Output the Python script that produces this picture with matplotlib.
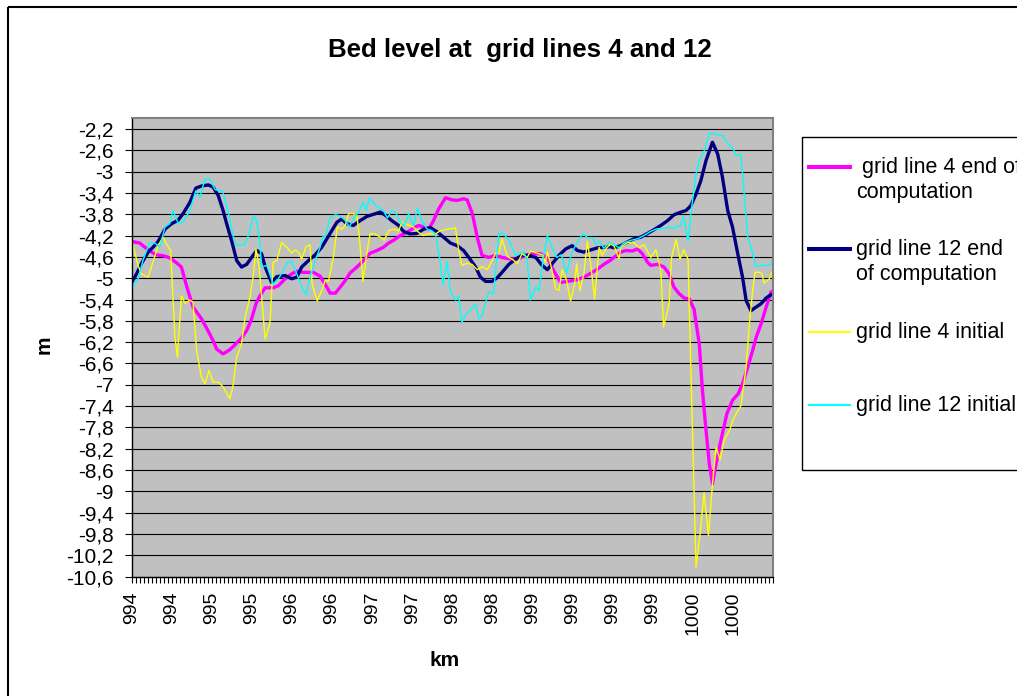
import numpy as np
import matplotlib
matplotlib.use("Agg")
import matplotlib.pyplot as plt
from matplotlib.patches import Rectangle

plt.rcParams['font.family'] = ['Liberation Sans', 'DejaVu Sans']

# station index along the river (category axis), one tick per station
n_stations = 161
tick_pos = list(range(0, 151, 10))
tick_labels = ['994', '994', '995', '995', '996', '996', '997', '997',
               '998', '998', '999', '999', '999', '999', '1000', '1000']

# grid line 4 end of computation
g4_end_x = [0, 2, 3.3, 5, 6, 8, 9.5, 11, 12.4, 13.7, 15.3, 17.4, 19, 20.3, 21.2, 22.8,
            24.5, 26, 27.4, 28.7, 29.8, 31, 32, 33.3, 35.3, 36.6, 38.3, 39.9, 41.2,
            42.8, 45.3, 47, 48.7, 49.5, 50.8, 52, 53.3, 54.5, 56.2, 57.8, 59.5, 61.2,
            62.8, 64.1, 65.3, 67, 68.7, 70.3, 71.6, 72.8, 74.1, 75.3, 76.6, 78.3, 79.9,
            81.2, 82.8, 83.7, 85, 86.2, 87.4, 89.1, 90.8, 92.4, 94.5, 96.2, 99.5, 102,
            103.7, 105.3, 107, 108.7, 111.2, 112.8, 114.5, 116.2, 117.8, 119.5, 120.3,
            122, 123.3, 124.9, 126.2, 127.4, 128.7, 129.5, 131.2, 132.8, 134.1, 135.3,
            136.6, 137.8, 139.1, 140.3, 141.6, 142.4, 143.3, 144.1, 144.9, 145.8, 147,
            148.5, 149.9, 151.3, 152.4, 153.7, 154.9, 155.8, 157, 158.3, 159.5, 160]
g4_end_y = [-4.31, -4.34, -4.42, -4.51, -4.56, -4.58, -4.62, -4.70, -4.79, -5.15, -5.54,
            -5.76, -5.98, -6.17, -6.33, -6.42, -6.34, -6.23, -6.12, -5.98, -5.79, -5.48,
            -5.33, -5.18, -5.18, -5.14, -5.01, -4.92, -4.87, -4.89, -4.89, -4.96, -5.17,
            -5.28, -5.28, -5.17, -5.04, -4.90, -4.79, -4.67, -4.53, -4.48, -4.42, -4.34,
            -4.29, -4.20, -4.14, -4.06, -4.01, -4.04, -4.08, -3.92, -3.70, -3.49, -3.53,
            -3.54, -3.51, -3.53, -3.79, -4.23, -4.57, -4.61, -4.57, -4.61, -4.64, -4.64,
            -4.54, -4.54, -4.61, -4.86, -5.08, -5.06, -5.03, -4.98, -4.91, -4.83, -4.74,
            -4.66, -4.61, -4.51, -4.48, -4.49, -4.45, -4.54, -4.70, -4.76, -4.74, -4.79,
            -4.92, -5.17, -5.29, -5.37, -5.39, -5.58, -6.23, -7.11, -7.86, -8.48, -8.86,
            -8.48, -8.04, -7.54, -7.29, -7.17, -6.98, -6.67, -6.36, -6.11, -5.86, -5.54,
            -5.26, -5.24]

# grid line 12 end of computation
g12_end_x = [0, 1.2, 2.4, 4.1, 5.3, 6.6, 8.3, 9.9, 11.6, 12.8, 14.5, 16, 17.4, 19.1, 20.3,
             21.6, 22.8, 23.7, 24.9, 26.2, 27.4, 28.7, 29.9, 31.2, 32.4, 33.3, 34.9, 36.2,
             38.3, 39.9, 41.2, 42.4, 44.1, 45.8, 47.4, 48.7, 49.9, 51.2, 52.4, 53.7, 55.3,
             57, 58.7, 60.8, 62, 63.3, 64.9, 66.6, 67.8, 69.5, 71.2, 72.8, 74.5, 76.2,
             77.8, 79.5, 81.2, 82.8, 84.1, 85.8, 87, 88.3, 89.9, 91.2, 92.4, 94.1, 95.8,
             97.4, 99, 100.8, 102.4, 103.7, 104.9, 106.6, 108.3, 109.9, 111.2, 112.8,
             114.5, 116.2, 117.8, 119.5, 120.3, 122, 123.7, 125.3, 127, 128.7, 130.3, 132,
             133.7, 135.3, 137, 138.3, 139.5, 140.8, 142, 143.3, 144.9, 146.2, 147.4,
             148.7, 149.9, 151.2, 152.4, 153.3, 154.5, 155.8, 157, 158.3, 159.5, 160]
g12_end_y = [-5.08, -4.92, -4.73, -4.51, -4.42, -4.31, -4.08, -3.98, -3.91, -3.79, -3.58,
             -3.31, -3.27, -3.25, -3.29, -3.45, -3.73, -3.98, -4.29, -4.67, -4.79, -4.74,
             -4.61, -4.48, -4.54, -4.79, -5.08, -4.97, -4.95, -5.01, -4.98, -4.79, -4.67,
             -4.56, -4.42, -4.26, -4.11, -3.95, -3.89, -3.98, -4.01, -3.92, -3.84, -3.79,
             -3.76, -3.82, -3.92, -4.01, -4.12, -4.17, -4.16, -4.08, -4.05, -4.13, -4.23,
             -4.34, -4.39, -4.48, -4.61, -4.79, -4.98, -5.06, -5.06, -4.99, -4.89, -4.74,
             -4.64, -4.57, -4.57, -4.61, -4.76, -4.84, -4.73, -4.57, -4.45, -4.39, -4.48,
             -4.51, -4.47, -4.43, -4.42, -4.41, -4.43, -4.39, -4.32, -4.26, -4.23, -4.16,
             -4.09, -4.01, -3.92, -3.81, -3.76, -3.73, -3.64, -3.42, -3.17, -2.79, -2.45,
             -2.67, -3.11, -3.73, -4.04, -4.54, -4.98, -5.42, -5.61, -5.54, -5.48, -5.37,
             -5.31, -5.31]

# grid line 4 initial
g4_init_x = [0, 1.6, 2.4, 4.1, 5.3, 6.6, 7.8, 8.7, 9.7, 10.8, 11.4, 12.4, 13.3, 14.5, 15.3,
             16.2, 17.4, 18.3, 19.3, 20.3, 21.6, 22.8, 24.5, 25.3, 26.2, 27.4, 28.3, 29.5,
             30.3, 31, 31.8, 33.3, 34.5, 35.3, 36.2, 37.4, 38.7, 39.9, 40.8, 41.6, 42.4,
             43.5, 44.5, 45, 46.3, 47.4, 48.3, 49.1, 50.3, 51.3, 52.4, 53.3, 54.1, 55.3,
             56.2, 56.8, 57.7, 58.5, 59.5, 60.8, 62, 63, 64.1, 65.3, 66.6, 67.4, 68.3,
             69.3, 70.3, 71.6, 72.8, 73.7, 74.9, 75.8, 77, 78.7, 80.8, 81.6, 82.4, 83.7,
             84.9, 86.2, 87.4, 88.7, 89.9, 90.8, 91.6, 92.4, 93.7, 95.4, 96.2, 97.4, 98.7,
             99.5, 101.2, 102.4, 103.2, 103.7, 104.5, 105.8, 106.6, 107.4, 108.5, 109.5,
             110.5, 111, 111.8, 112.8, 113.7, 114.5, 115.5, 116.6, 117.4, 118.5, 119.5,
             120.3, 121.6, 122, 123.7, 125.3, 126.6, 127.8, 129.5, 130.8, 132, 132.7,
             134.1, 134.7, 135.8, 136.8, 137.7, 138.8, 140.8, 141.8, 142.8, 143.9, 144.9,
             145.8, 146.8, 147.8, 149.1, 150.3, 152, 153.3, 154.1, 154.9, 155.5, 156.6,
             157.2, 157.8, 159.1, 160]
g4_init_y = [-4.29, -4.76, -4.92, -4.98, -4.70, -4.39, -4.23, -4.36, -4.48, -6.11, -6.48,
             -5.33, -5.47, -5.41, -5.45, -6.36, -6.86, -6.98, -6.73, -6.95, -6.95, -7.04,
             -7.26, -7.01, -6.48, -6.23, -5.73, -5.36, -4.98, -4.45, -4.79, -6.14, -5.84,
             -4.70, -4.67, -4.33, -4.42, -4.53, -4.47, -4.51, -4.64, -4.41, -4.37, -5.11,
             -5.43, -5.23, -5.04, -5.06, -4.61, -4.04, -4.08, -4.01, -3.79, -3.79, -3.84,
             -4.23, -5.06, -4.61, -4.16, -4.17, -4.23, -4.29, -4.11, -4.08, -4.11, -3.95,
             -3.98, -4.01, -4.04, -4.14, -4.20, -4.17, -4.16, -4.17, -4.11, -4.08, -4.06,
             -4.48, -4.76, -4.72, -4.74, -4.84, -4.78, -4.84, -4.67, -4.53, -4.54, -4.26,
             -4.59, -4.67, -4.73, -4.54, -4.61, -4.49, -4.53, -4.56, -4.70, -4.51, -4.73,
             -5.20, -5.23, -4.84, -5.04, -5.43, -5.11, -4.73, -5.23, -4.92, -4.31, -4.73,
             -5.39, -4.42, -4.57, -4.43, -4.36, -4.39, -4.64, -4.42, -4.33, -4.33, -4.43,
             -4.37, -4.61, -4.47, -4.86, -5.92, -5.48, -4.61, -4.27, -4.64, -4.47, -4.64,
             -10.42, -9.80, -9.02, -9.83, -8.86, -8.17, -8.41, -8.04, -7.86, -7.61, -7.39,
             -6.67, -5.86, -5.26, -4.89, -4.89, -4.91, -5.09, -5.01, -4.84]

# grid line 12 initial
g12_init_x = [0, 1.6, 2.8, 4.5, 5.8, 7, 8.3, 9.5, 10.3, 11.6, 12.8, 14.5, 16, 17, 18.3,
              19.5, 20.8, 22, 22.7, 24.1, 25.3, 26.2, 28.3, 29.3, 30.3, 31.2, 32, 32.4,
              33.7, 35.3, 36.6, 37.8, 38.7, 39.9, 41.2, 42.4, 43.5, 44.5, 45.8, 47, 47.7,
              48.3, 49.5, 50.8, 52, 53.3, 54.3, 55.3, 56.6, 57.7, 58.5, 59.3, 60.3, 61.6,
              62.8, 63.8, 64.9, 65.8, 67, 68, 69.1, 70.3, 71.3, 72.4, 73.7, 74.9, 75.8,
              76.8, 77.7, 78.7, 79.5, 80.8, 81.6, 82.4, 83.3, 85.8, 86.6, 87.4, 89.1, 90.3,
              91.6, 92.7, 94.1, 95.8, 97, 97.8, 98.7, 99.5, 100.8, 101.6, 102.7, 103.7,
              104.9, 106, 107.2, 108.5, 109.7, 111.2, 112.6, 113.7, 115, 115.8, 116.8,
              117.8, 119.1, 120.3, 121.6, 122.8, 124.5, 126.2, 127.8, 129.5, 131.2, 132.8,
              134.1, 134.9, 135.8, 136.8, 137.7, 138.8, 139.5, 140.8, 141.6, 142.8, 144.1,
              144.9, 146.2, 147.4, 148.7, 150.2, 150.8, 152, 152.8, 153.7, 154.7, 155.8,
              157, 158.7, 160]
g12_init_y = [-5.20, -5.01, -4.67, -4.33, -4.34, -4.42, -4.04, -3.98, -3.73, -3.97, -3.95,
              -3.73, -3.36, -3.48, -3.14, -3.14, -3.34, -3.36, -3.37, -3.76, -4.20, -4.39,
              -4.36, -4.16, -3.84, -3.92, -4.36, -4.79, -4.76, -5.11, -5.01, -4.86, -4.72,
              -4.68, -4.92, -5.17, -5.31, -4.98, -4.67, -4.42, -4.22, -4.23, -3.86, -3.81,
              -3.83, -3.92, -4.04, -3.89, -3.76, -3.58, -3.73, -3.49, -3.59, -3.67, -3.73,
              -3.87, -3.73, -3.76, -3.95, -4.01, -3.79, -4.01, -3.68, -3.92, -4.08, -4.11,
              -4.18, -4.61, -5.12, -4.68, -5.26, -5.41, -5.34, -5.83, -5.70, -5.49, -5.76,
              -5.70, -5.26, -5.28, -4.16, -4.16, -4.29, -4.57, -4.53, -4.51, -4.67, -5.41,
              -5.16, -5.23, -4.61, -4.20, -4.42, -4.61, -4.56, -4.91, -4.54, -4.32, -4.16,
              -4.24, -4.24, -4.36, -4.31, -4.44, -4.33, -4.37, -4.43, -4.34, -4.29, -4.26,
              -4.20, -4.12, -4.07, -4.07, -4.04, -4.07, -4.03, -4.03, -3.84, -4.31, -3.79,
              -3.04, -2.79, -2.62, -2.29, -2.28, -2.31, -2.33, -2.47, -2.59, -2.70, -2.68,
              -3.42, -4.23, -4.48, -4.78, -4.76, -4.76, -4.72]

series = [
    (g4_end_x, g4_end_y, '#FF00FF', 2.4, [' grid line 4 end of', 'computation']),
    (g12_end_x, g12_end_y, '#000080', 2.4, ['grid line 12 end', 'of computation']),
    (g4_init_x, g4_init_y, '#FFFF00', 1.0, ['grid line 4 initial']),
    (g12_init_x, g12_init_y, '#00FFFF', 1.0, ['grid line 12 initial']),
]

W, H = 1017, 696
fig = plt.figure(figsize=(W / 100, H / 100), dpi=100)

# overlay in pixel coordinates for the chart frame, titles and legend
ov = fig.add_axes([0, 0, 1, 1])
ov.set_xlim(0, W)
ov.set_ylim(H, 0)
ov.axis('off')
ov.add_patch(Rectangle((7.5, 6.5), 1200, 800, fill=False, ec='black', lw=1.5))

ax = fig.add_axes([131.7 / W, 1 - 576.7 / H, (773 - 131.7) / W, (576.7 - 118.3) / H])
ax.set_facecolor('#C0C0C0')
for x, y, c, lw, _ in series:
    ax.plot(x, y, color=c, lw=lw, solid_joinstyle='round')

ax.set_xlim(0, n_stations - 1)
ax.set_ylim(-10.6, -2.0)
yt = [round(-10.6 + 0.4 * i, 1) for i in range(22)]
ax.set_yticks(yt)
ax.set_yticklabels([f"{v:g}".replace('.', ',') for v in yt], fontsize=15)
ax.set_xticks(tick_pos)
ax.set_xticklabels(tick_labels, rotation=90, fontsize=14)
ax.set_xticks(range(n_stations), minor=True)
ax.tick_params(axis='x', which='both', direction='out', length=4, width=0.8, pad=7)
ax.tick_params(axis='y', direction='out', length=5, width=0.8, pad=8)
ax.yaxis.grid(True, color='black', lw=0.8)
ax.set_axisbelow(True)
for s in ['top', 'right']:
    ax.spines[s].set_color('#808080')
    ax.spines[s].set_linewidth(1.5)
for s in ['left', 'bottom']:
    ax.spines[s].set_color('black')
    ax.spines[s].set_linewidth(1.0)

ov.text(520, 50, 'Bed level at  grid lines 4 and 12', ha='center', va='center',
        fontsize=18.6, fontweight='bold')
ov.text(44, 345, 'm', ha='center', va='center', rotation=90, fontsize=15, fontweight='bold')
ov.text(445, 660, 'km', ha='center', va='center', fontsize=15, fontweight='bold')

# legend
ov.add_patch(Rectangle((801.7, 136.7), 400, 333.3, fill=False, ec='black', lw=1.0))
leg_y = [167.3, 249.3, 331.7, 405]
for (x, y, c, lw, lines), ly in zip(series, leg_y):
    ov.plot([809, 850], [ly, ly], color=c, lw=lw + 0.5)
    for k, t in enumerate(lines):
        ov.text(856, ly + 6 + 25 * k, t, ha='left', va='baseline', fontsize=15.5)

fig.savefig('out.png', dpi=100)
